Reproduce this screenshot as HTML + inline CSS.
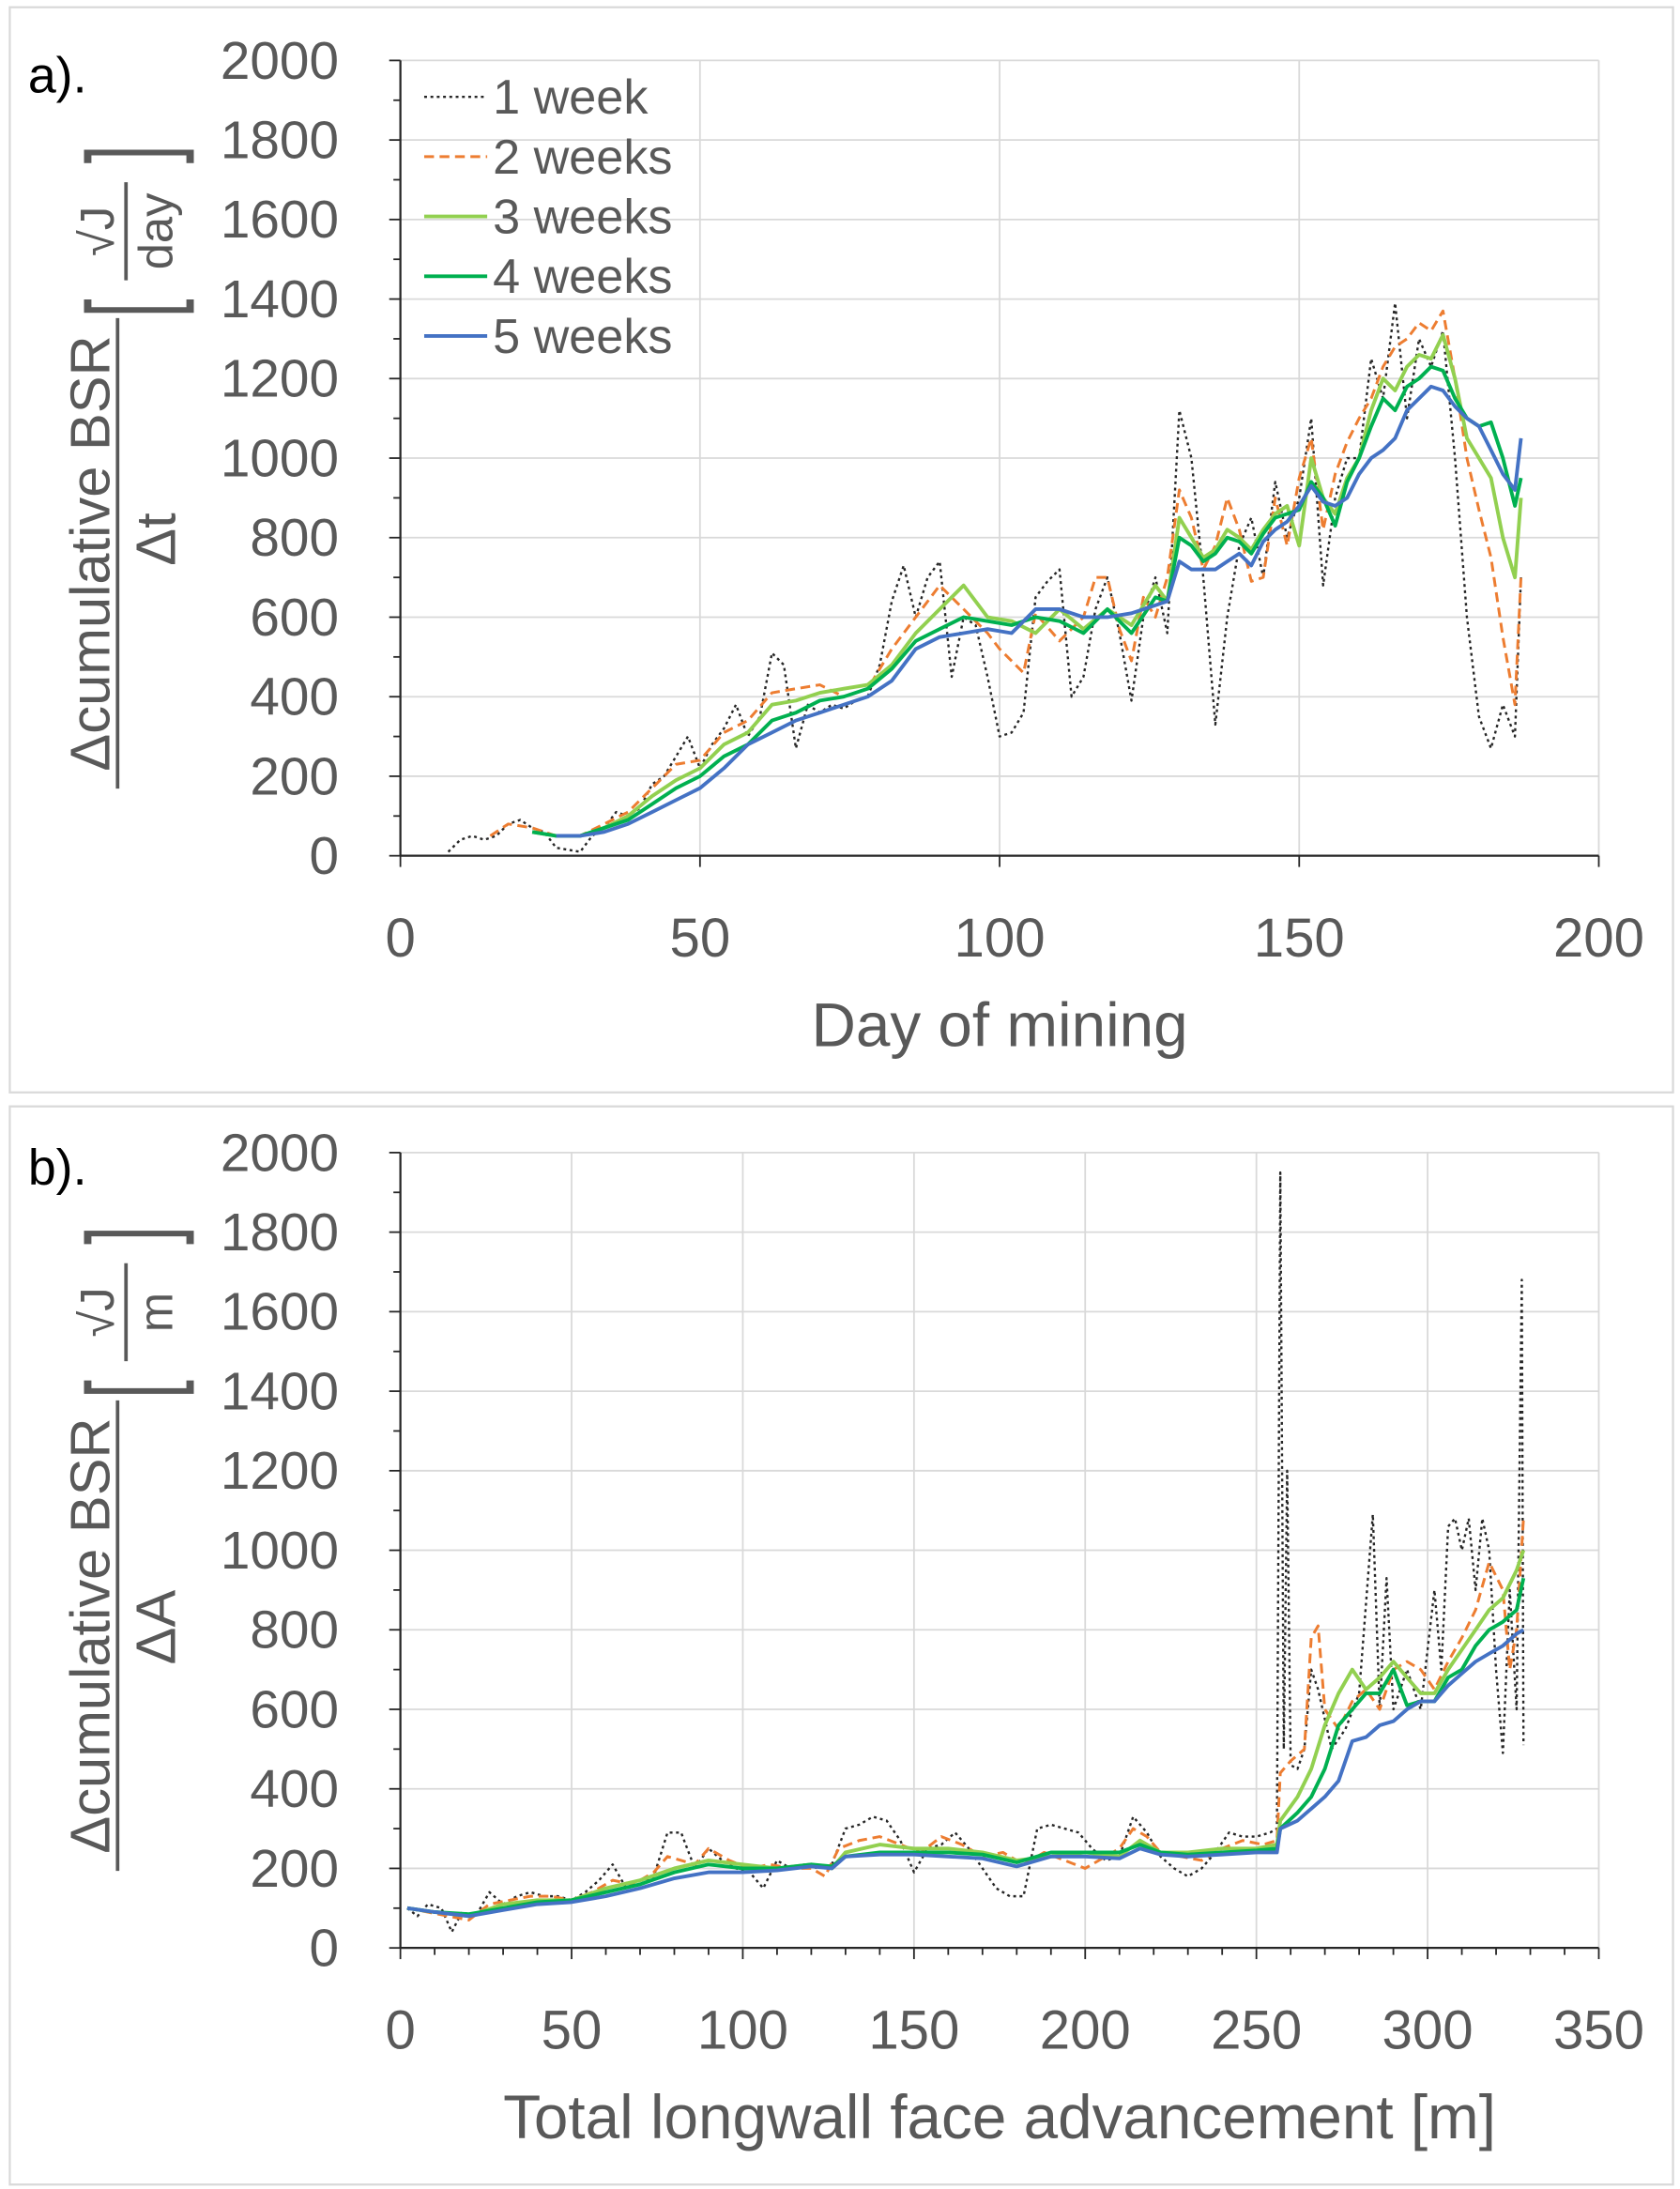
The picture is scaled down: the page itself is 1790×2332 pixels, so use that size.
<!DOCTYPE html>
<html><head><meta charset="utf-8"><style>
html,body{margin:0;padding:0;background:#fff}
svg{display:block}
text{font-family:"Liberation Sans",sans-serif;fill:#595959}
</style></head><body>
<svg id="chart" width="1790" height="2332" viewBox="0 0 1200 1563">
<rect x="0" y="0" width="1200" height="1563" fill="#fff"/>
<rect x="7" y="5" width="1188" height="775" fill="none" stroke="#d9d9d9" stroke-width="1.5"/>
<rect x="7" y="790" width="1188" height="770" fill="none" stroke="#d9d9d9" stroke-width="1.5"/>
<g id="pa"></g>
<g id="pb"></g>
</svg>
<script>
// Panel a data (day of mining)
const aW1x=[8,10,12,14,16,18,20,22,24,26,28,30,32,34,36,38,40,42,44,46,48,50,52,54,56,58,60,62,64,66,68,70,72,74,76,78,80,82,84,86,88,90,92,94,96,98,100,102,104,106,108,110,112,114,116,118,120,122,124,126,128,130,132,134,136,138,140,142,144,146,148,150,152,154,156,158,160,162,164,166,168,170,172,174,176,178,180,182,184,186,187];
const aW1y=[10,40,50,40,50,80,90,70,60,20,15,10,50,70,110,100,120,180,200,250,300,220,280,320,380,300,350,510,480,270,380,360,380,370,390,400,480,640,730,600,700,740,450,600,580,450,300,310,360,650,690,720,400,450,620,700,560,390,600,700,560,1120,1000,700,330,600,780,850,700,940,800,900,1100,680,900,1000,1000,1250,1150,1390,1100,1300,1230,1320,1000,600,350,270,380,300,700];
const aW2x=[15,18,22,26,30,34,38,42,46,50,54,58,62,66,70,74,78,82,86,90,94,98,100,104,106,110,114,116,118,120,122,124,126,128,130,132,134,136,138,140,142,144,146,148,150,152,154,156,158,160,162,164,166,168,170,172,174,176,178,180,182,184,186,187];
const aW2y=[50,80,70,50,50,80,110,170,230,240,310,340,410,420,430,400,420,520,600,680,620,560,520,460,610,540,600,700,700,570,490,650,600,700,920,850,720,780,900,820,690,700,900,780,950,1050,820,960,1040,1100,1150,1230,1280,1300,1340,1320,1370,1200,1000,870,750,550,380,700];
const aW3x=[22,26,30,34,38,42,46,50,54,58,62,66,70,74,78,82,86,90,94,98,102,106,110,114,118,122,126,128,130,132,134,136,138,140,142,144,146,148,150,152,154,156,158,160,162,164,166,168,170,172,174,176,178,180,182,184,186,187];
const aW3y=[60,50,50,70,100,150,190,220,280,310,380,390,410,420,430,480,560,620,680,600,590,560,620,570,620,580,680,640,850,800,750,770,820,800,770,820,860,880,780,1000,900,860,950,1000,1120,1200,1170,1230,1260,1250,1310,1200,1050,1000,950,800,700,900];
const aW4x=[22,26,30,34,38,42,46,50,54,58,62,66,70,74,78,82,86,90,94,98,102,106,110,114,118,122,126,128,130,132,134,136,138,140,142,144,146,148,150,152,154,156,158,160,162,164,166,168,170,172,174,176,178,180,182,184,186,187];
const aW4y=[60,50,50,70,90,130,170,200,250,280,340,360,390,400,420,470,540,570,600,590,580,600,590,560,620,560,650,640,800,780,740,760,800,790,760,810,850,860,870,940,900,830,940,1000,1080,1150,1120,1180,1200,1230,1220,1150,1100,1080,1090,1000,880,950];
const aW5x=[26,30,34,38,42,46,50,54,58,62,66,70,74,78,82,86,90,94,98,102,106,110,114,118,122,126,128,130,132,134,136,138,140,142,144,146,148,150,152,154,156,158,160,162,164,166,168,170,172,174,176,178,180,182,184,186,187];
const aW5y=[50,50,60,80,110,140,170,220,280,310,340,360,380,400,440,520,550,560,570,560,620,620,600,600,610,630,640,740,720,720,720,740,760,730,790,820,840,880,930,890,880,900,960,1000,1020,1050,1120,1150,1180,1170,1130,1100,1080,1020,960,920,1050];
// Panel b data (face advancement m)
const bW1x=[2,5,8,12,15,18,22,26,30,34,38,42,46,50,54,58,62,66,70,74,78,82,86,90,94,98,102,106,110,114,118,122,126,130,134,138,142,146,150,154,158,162,166,170,174,178,182,186,190,194,198,202,206,210,214,218,222,226,230,234,238,242,246,250,254,256,257,258,259,260,262,264,266,268,272,276,280,284,286,288,290,294,298,302,304,306,308,310,312,314,316,318,320,322,324,326,327.5,328];
const bW1y=[100,80,110,100,40,90,80,140,110,130,140,130,130,120,140,170,210,150,160,180,290,290,200,250,220,200,190,150,220,200,210,200,210,300,310,330,320,270,190,250,260,290,250,200,150,130,130,300,310,300,290,250,220,230,330,290,230,200,180,200,240,290,280,280,290,300,1950,500,1200,460,450,500,700,650,500,550,640,1090,600,930,600,700,600,900,700,1060,1080,1000,1080,900,1080,1000,700,490,900,600,1680,510];
const bW2x=[2,8,14,20,26,32,38,44,50,56,62,68,74,78,82,86,90,96,102,108,114,120,124,128,134,140,146,152,158,164,170,176,182,188,194,200,206,210,214,218,222,228,234,240,246,252,256,257,260,264,266,268,270,274,278,282,286,290,294,298,302,306,310,314,318,322,324,326,328];
const bW2y=[100,90,80,70,110,120,130,130,120,140,170,160,190,230,220,210,250,220,200,210,200,200,180,250,270,280,260,240,280,260,230,240,210,240,220,200,230,250,300,280,240,230,220,250,270,260,270,440,470,500,780,810,600,550,620,650,600,700,720,700,650,720,780,850,970,900,700,800,1080];
const bW3x=[2,10,20,30,40,50,60,70,80,90,100,110,120,126,130,140,150,160,170,180,190,200,210,216,222,230,240,250,256,257,262,266,270,274,278,282,286,290,294,298,302,306,310,314,318,322,326,328];
const bW3y=[100,90,80,110,120,120,150,170,200,220,210,200,210,200,240,260,250,250,240,220,230,240,230,270,240,240,250,250,260,320,380,450,560,640,700,650,680,720,680,640,640,700,750,800,850,880,950,1000];
const bW4x=[2,10,20,30,40,50,60,70,80,90,100,110,120,126,130,140,150,160,170,180,190,200,210,216,222,230,240,250,256,257,262,266,270,274,278,282,286,290,294,298,302,306,310,314,318,322,326,328];
const bW4y=[100,90,85,100,115,120,140,160,190,210,200,200,210,205,230,240,240,240,235,215,240,240,240,260,240,235,240,245,250,300,340,380,450,560,600,640,640,700,610,620,620,680,700,760,800,820,850,930];
const bW5x=[2,10,20,30,40,50,60,70,80,90,100,110,120,126,130,140,150,160,170,180,190,200,210,216,222,230,240,250,256,257,262,266,270,274,278,282,286,290,294,298,302,306,310,314,318,322,326,328];
const bW5y=[100,90,80,95,110,115,130,150,175,190,190,195,205,200,230,235,235,230,225,205,230,230,225,250,235,230,235,240,240,300,320,350,380,420,520,530,560,570,600,620,620,660,690,720,740,760,790,800];
const yTicks=[0,200,400,600,800,1000,1200,1400,1600,1800,2000];
const aXTicks=[0,50,100,150,200];
const bXTicks=[0,50,100,150,200,250,300,350];
const legendLabels=["1 week","2 weeks","3 weeks","4 weeks","5 weeks"];

const NS="http://www.w3.org/2000/svg";
const styles=[
 {c:"#262626",w:1.6,d:"2,2.5"},
 {c:"#ED7D31",w:2,d:"7,4"},
 {c:"#92D050",w:2.6,d:""},
 {c:"#00B050",w:2.6,d:""},
 {c:"#4472C4",w:2.6,d:""}];
function mk(tag,attrs,parent){const e=document.createElementNS(NS,tag);for(const k in attrs)e.setAttribute(k,attrs[k]);parent.appendChild(e);return e;}

function panel(g,P,xTicks,xMax,minorX,series,xTitle,panelLetter,yTitleNum,yTitleDen,unit,legend){
  const sx=v=>P.x0+(v/xMax)*(P.x1-P.x0);
  const sy=v=>P.y0-(v/2000)*(P.y0-P.y1);
  for(const t of yTicks){ if(t===0)continue;
    const l=mk('line',{x1:P.x0,x2:P.x1,y1:sy(t),y2:sy(t),stroke:'#d9d9d9','stroke-width':1.2},g);
    
    
  }
  for(const t of xTicks){ if(t===0)continue;
    const l=mk('line',{x1:sx(t),x2:sx(t),y1:P.y0,y2:P.y1,stroke:'#d9d9d9','stroke-width':1.2},g);
    
    
  }
  const ya=mk('line',{x1:P.x0,x2:P.x0,y1:P.y0,y2:P.y1,stroke:'#262626','stroke-width':1.5},g);
  
  
  const xa=mk('line',{x1:P.x0,x2:P.x1,y1:P.y0,y2:P.y0,stroke:'#262626','stroke-width':1.5},g);
  
  
  for(let v=0;v<=2000;v+=100){mk('line',{x1:P.x0-(v%200===0?8:5),x2:P.x0,y1:sy(v),y2:sy(v),stroke:'#262626','stroke-width':1.2},g);}
  for(let v=0;v<=xMax;v+=minorX){mk('line',{x1:sx(v),x2:sx(v),y1:P.y0,y2:P.y0+(xTicks.includes(v)?8:5),stroke:'#262626','stroke-width':1.2},g);}
  for(const t of yTicks){const e=mk('text',{x:P.x0-44,y:sy(t)+13,'text-anchor':'end','font-size':38},g);e.textContent=t;
    
    }
  for(const t of xTicks){const e=mk('text',{x:sx(t),y:P.y0+72,'text-anchor':'middle','font-size':39},g);e.textContent=t;
    
    }
  const xt=mk('text',{x:(P.x0+P.x1)/2,y:P.y0+136,'text-anchor':'middle','font-size':44},g);xt.textContent=xTitle;
  
  
  const pl=mk('text',{x:20,y:P.y1+23,'font-size':36,style:'fill:#000'},g);pl.textContent=panelLetter;
  
  
  const yt=mk('g',{transform:`translate(95,${P.yc}) rotate(-90)`},g);
  
  
  const n=mk('text',{x:P.numC,y:-17,'text-anchor':'middle','font-size':40},yt);n.textContent=yTitleNum;
  mk('line',{x1:P.numC-168,x2:P.numC+168,y1:-11,y2:-11,stroke:'#595959','stroke-width':2.5},yt);
  const d=mk('text',{x:P.denC,y:30,'text-anchor':'middle','font-size':40},yt);d.textContent=yTitleDen;
  const bc=P.brC;
  const b1=mk('text',{x:0,y:0,'text-anchor':'middle','font-size':48,transform:`translate(${bc-55},26) scale(1,1.75)`},yt);b1.textContent='[';
  const b2=mk('text',{x:0,y:0,'text-anchor':'middle','font-size':48,transform:`translate(${bc+55},26) scale(1,1.75)`},yt);b2.textContent=']';
  const sj=mk('text',{x:bc,y:-14,'text-anchor':'middle','font-size':34},yt);sj.textContent='√J';
  mk('line',{x1:bc-35,x2:bc+35,y1:-5,y2:-5,stroke:'#595959','stroke-width':2.5},yt);
  const un=mk('text',{x:bc,y:28,'text-anchor':'middle','font-size':34},yt);un.textContent=unit;
  series.forEach((s,i)=>{
    const st=styles[i];
    const pts=s[0].map((x,j)=>sx(x).toFixed(1)+','+sy(s[1][j]).toFixed(1)).join(' ');
    const p=mk('polyline',{points:pts,fill:'none',stroke:st.c,'stroke-width':st.w,'stroke-dasharray':st.d,'stroke-linejoin':'round'},g);
    
    
  });
  if(legend){
    legendLabels.forEach((lab,i)=>{
      const st=styles[i];const y=69+i*42.7;
      const lg=mk('g',{},g);
      
      
      mk('line',{x1:303,x2:348,y1:y,y2:y,stroke:st.c,'stroke-width':st.w,'stroke-dasharray':st.d},lg);
      const t=mk('text',{x:352,y:y+12,'font-size':35},lg);t.textContent=lab;
    });
  }
}
panel(document.getElementById('pa'),{x0:286,x1:1142,y0:611,y1:43,yc:330,numC:-65,denC:-55,brC:165},aXTicks,200,50,
  [[aW1x,aW1y],[aW2x,aW2y],[aW3x,aW3y],[aW4x,aW4y],[aW5x,aW5y]],"Day of mining","a).","Δcumulative BSR","Δt","day",true);
panel(document.getElementById('pb'),{x0:286,x1:1142,y0:1391,y1:823,yc:1162,numC:-6,denC:0,brC:225},bXTicks,350,10,
  [[bW1x,bW1y],[bW2x,bW2y],[bW3x,bW3y],[bW4x,bW4y],[bW5x,bW5y]],"Total longwall face advancement [m]","b).","Δcumulative BSR","ΔA","m",false);
</script>
</body></html>
